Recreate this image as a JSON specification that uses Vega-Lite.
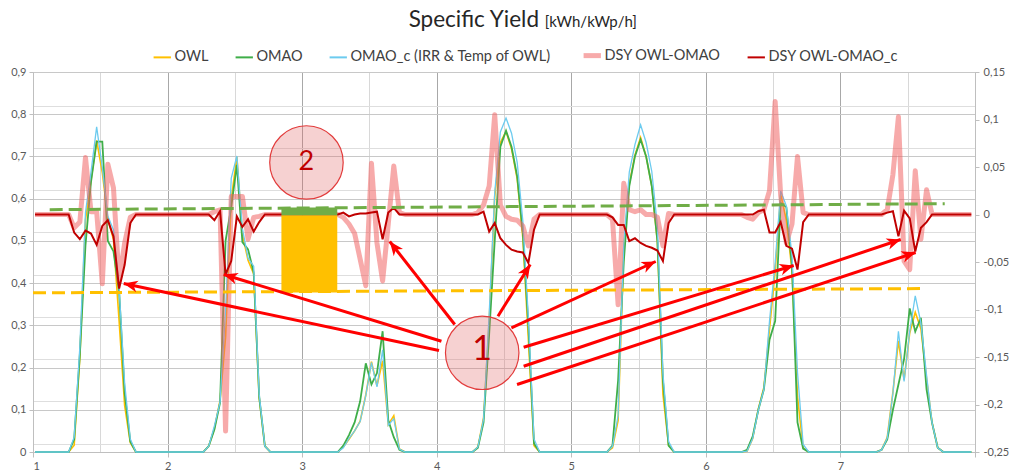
{
  "$schema": "https://vega.github.io/schema/vega-lite/v6.json",
  "width": 942,
  "height": 380,
  "autosize": {"type": "none"},
  "padding": {"left": 33, "top": 72, "right": 36, "bottom": 20},
  "background": "#ffffff",
  "config": {"view": {"stroke": null}, "font": "Lato"},
  "datasets": {
    "hourly": [
      {"day":1.015,"OWL":0,"OMAO":0,"OMAO_c":0,"DSY":0,"DSY_c":0},
      {"day":1.223,"OWL":0,"OMAO":0,"OMAO_c":0,"DSY":0,"DSY_c":0},
      {"day":1.265,"OWL":0,"OMAO":0,"OMAO_c":0,"DSY":0,"DSY_c":0},
      {"day":1.306,"OWL":0.016,"OMAO":0.03,"OMAO_c":0.035,"DSY":-0.014,"DSY_c":-0.019},
      {"day":1.348,"OWL":0.222,"OMAO":0.23,"OMAO_c":0.248,"DSY":-0.008,"DSY_c":-0.026},
      {"day":1.390,"OWL":0.55,"OMAO":0.49,"OMAO_c":0.567,"DSY":0.06,"DSY_c":-0.017},
      {"day":1.431,"OWL":0.643,"OMAO":0.64,"OMAO_c":0.663,"DSY":0.003,"DSY_c":-0.02},
      {"day":1.473,"OWL":0.738,"OMAO":0.735,"OMAO_c":0.77,"DSY":0.003,"DSY_c":-0.032},
      {"day":1.515,"OWL":0.662,"OMAO":0.735,"OMAO_c":0.674,"DSY":-0.073,"DSY_c":-0.012},
      {"day":1.556,"OWL":0.553,"OMAO":0.5,"OMAO_c":0.559,"DSY":0.053,"DSY_c":-0.006},
      {"day":1.598,"OWL":0.503,"OMAO":0.475,"OMAO_c":0.526,"DSY":0.028,"DSY_c":-0.023},
      {"day":1.640,"OWL":0.31,"OMAO":0.38,"OMAO_c":0.388,"DSY":-0.07,"DSY_c":-0.078},
      {"day":1.681,"OWL":0.11,"OMAO":0.14,"OMAO_c":0.163,"DSY":-0.03,"DSY_c":-0.053},
      {"day":1.723,"OWL":0.022,"OMAO":0.025,"OMAO_c":0.031,"DSY":-0.003,"DSY_c":-0.009},
      {"day":1.765,"OWL":0,"OMAO":0,"OMAO_c":0,"DSY":0,"DSY_c":0},
      {"day":1.806,"OWL":0,"OMAO":0,"OMAO_c":0,"DSY":0,"DSY_c":0},
      {"day":2.223,"OWL":0,"OMAO":0,"OMAO_c":0,"DSY":0,"DSY_c":0},
      {"day":2.265,"OWL":0,"OMAO":0,"OMAO_c":0,"DSY":0,"DSY_c":0},
      {"day":2.306,"OWL":0.014,"OMAO":0.014,"OMAO_c":0.014,"DSY":0,"DSY_c":0},
      {"day":2.348,"OWL":0.056,"OMAO":0.053,"OMAO_c":0.062,"DSY":0.003,"DSY_c":-0.006},
      {"day":2.390,"OWL":0.122,"OMAO":0.117,"OMAO_c":0.118,"DSY":0.005,"DSY_c":0.0035},
      {"day":2.431,"OWL":0.272,"OMAO":0.5,"OMAO_c":0.335,"DSY":-0.228,"DSY_c":-0.063},
      {"day":2.473,"OWL":0.599,"OMAO":0.58,"OMAO_c":0.648,"DSY":0.019,"DSY_c":-0.049},
      {"day":2.515,"OWL":0.699,"OMAO":0.68,"OMAO_c":0.701,"DSY":0.019,"DSY_c":-0.002},
      {"day":2.556,"OWL":0.516,"OMAO":0.497,"OMAO_c":0.529,"DSY":0.019,"DSY_c":-0.013},
      {"day":2.598,"OWL":0.454,"OMAO":0.48,"OMAO_c":0.459,"DSY":-0.026,"DSY_c":-0.005},
      {"day":2.640,"OWL":0.422,"OMAO":0.425,"OMAO_c":0.44,"DSY":-0.003,"DSY_c":-0.018},
      {"day":2.681,"OWL":0.128,"OMAO":0.13,"OMAO_c":0.136,"DSY":-0.002,"DSY_c":-0.008},
      {"day":2.723,"OWL":0.014,"OMAO":0.014,"OMAO_c":0.014,"DSY":0,"DSY_c":0},
      {"day":2.765,"OWL":0,"OMAO":0,"OMAO_c":0,"DSY":0,"DSY_c":0},
      {"day":2.806,"OWL":0,"OMAO":0,"OMAO_c":0,"DSY":0,"DSY_c":0},
      {"day":3.223,"OWL":0,"OMAO":0,"OMAO_c":0,"DSY":0,"DSY_c":0},
      {"day":3.265,"OWL":0,"OMAO":0,"OMAO_c":0,"DSY":0,"DSY_c":0},
      {"day":3.306,"OWL":0.012,"OMAO":0.015,"OMAO_c":0.01,"DSY":-0.003,"DSY_c":0.002},
      {"day":3.348,"OWL":0.03,"OMAO":0.04,"OMAO_c":0.032,"DSY":-0.01,"DSY_c":-0.002},
      {"day":3.390,"OWL":0.05,"OMAO":0.07,"OMAO_c":0.05,"DSY":-0.02,"DSY_c":0},
      {"day":3.431,"OWL":0.073,"OMAO":0.12,"OMAO_c":0.072,"DSY":-0.047,"DSY_c":0.001},
      {"day":3.473,"OWL":0.135,"OMAO":0.21,"OMAO_c":0.134,"DSY":-0.075,"DSY_c":0.001},
      {"day":3.515,"OWL":0.214,"OMAO":0.16,"OMAO_c":0.212,"DSY":0.054,"DSY_c":0.002},
      {"day":3.556,"OWL":0.157,"OMAO":0.187,"OMAO_c":0.154,"DSY":-0.03,"DSY_c":0.003},
      {"day":3.598,"OWL":0.216,"OMAO":0.286,"OMAO_c":0.242,"DSY":-0.07,"DSY_c":-0.026},
      {"day":3.640,"OWL":0.065,"OMAO":0.075,"OMAO_c":0.063,"DSY":-0.01,"DSY_c":0.002},
      {"day":3.681,"OWL":0.086,"OMAO":0.035,"OMAO_c":0.079,"DSY":0.051,"DSY_c":0.007},
      {"day":3.723,"OWL":0.007,"OMAO":0.005,"OMAO_c":0.007,"DSY":0.002,"DSY_c":0},
      {"day":3.765,"OWL":0,"OMAO":0,"OMAO_c":0,"DSY":0,"DSY_c":0},
      {"day":3.806,"OWL":0,"OMAO":0,"OMAO_c":0,"DSY":0,"DSY_c":0},
      {"day":4.223,"OWL":0,"OMAO":0,"OMAO_c":0,"DSY":0,"DSY_c":0},
      {"day":4.265,"OWL":0,"OMAO":0,"OMAO_c":0,"DSY":0,"DSY_c":0},
      {"day":4.306,"OWL":0.012,"OMAO":0.01,"OMAO_c":0.012,"DSY":0.002,"DSY_c":0},
      {"day":4.348,"OWL":0.08,"OMAO":0.07,"OMAO_c":0.077,"DSY":0.01,"DSY_c":0.003},
      {"day":4.390,"OWL":0.31,"OMAO":0.28,"OMAO_c":0.328,"DSY":0.03,"DSY_c":-0.018},
      {"day":4.431,"OWL":0.605,"OMAO":0.5,"OMAO_c":0.614,"DSY":0.105,"DSY_c":-0.009},
      {"day":4.473,"OWL":0.733,"OMAO":0.723,"OMAO_c":0.758,"DSY":0.01,"DSY_c":-0.025},
      {"day":4.515,"OWL":0.759,"OMAO":0.761,"OMAO_c":0.791,"DSY":-0.002,"DSY_c":-0.032},
      {"day":4.556,"OWL":0.718,"OMAO":0.723,"OMAO_c":0.755,"DSY":-0.005,"DSY_c":-0.037},
      {"day":4.598,"OWL":0.647,"OMAO":0.653,"OMAO_c":0.686,"DSY":-0.006,"DSY_c":-0.039},
      {"day":4.640,"OWL":0.507,"OMAO":0.519,"OMAO_c":0.547,"DSY":-0.012,"DSY_c":-0.04},
      {"day":4.681,"OWL":0.267,"OMAO":0.3,"OMAO_c":0.318,"DSY":-0.033,"DSY_c":-0.051},
      {"day":4.723,"OWL":0.015,"OMAO":0.02,"OMAO_c":0.031,"DSY":-0.005,"DSY_c":-0.016},
      {"day":4.765,"OWL":0,"OMAO":0,"OMAO_c":0,"DSY":0,"DSY_c":0},
      {"day":4.806,"OWL":0,"OMAO":0,"OMAO_c":0,"DSY":0,"DSY_c":0},
      {"day":5.223,"OWL":0,"OMAO":0,"OMAO_c":0,"DSY":0,"DSY_c":0},
      {"day":5.265,"OWL":0,"OMAO":0,"OMAO_c":0,"DSY":0,"DSY_c":0},
      {"day":5.306,"OWL":0.01,"OMAO":0.015,"OMAO_c":0.013,"DSY":-0.005,"DSY_c":-0.003},
      {"day":5.348,"OWL":0.075,"OMAO":0.17,"OMAO_c":0.086,"DSY":-0.095,"DSY_c":-0.011},
      {"day":5.390,"OWL":0.483,"OMAO":0.45,"OMAO_c":0.494,"DSY":0.033,"DSY_c":-0.011},
      {"day":5.431,"OWL":0.635,"OMAO":0.63,"OMAO_c":0.663,"DSY":0.005,"DSY_c":-0.028},
      {"day":5.473,"OWL":0.703,"OMAO":0.7,"OMAO_c":0.728,"DSY":0.003,"DSY_c":-0.025},
      {"day":5.515,"OWL":0.745,"OMAO":0.74,"OMAO_c":0.775,"DSY":0.005,"DSY_c":-0.03},
      {"day":5.556,"OWL":0.7,"OMAO":0.7,"OMAO_c":0.733,"DSY":0,"DSY_c":-0.033},
      {"day":5.598,"OWL":0.63,"OMAO":0.63,"OMAO_c":0.665,"DSY":0,"DSY_c":-0.035},
      {"day":5.640,"OWL":0.497,"OMAO":0.5,"OMAO_c":0.535,"DSY":-0.003,"DSY_c":-0.038},
      {"day":5.681,"OWL":0.137,"OMAO":0.17,"OMAO_c":0.186,"DSY":-0.033,"DSY_c":-0.049},
      {"day":5.723,"OWL":0.016,"OMAO":0.015,"OMAO_c":0.025,"DSY":0.001,"DSY_c":-0.009},
      {"day":5.765,"OWL":0,"OMAO":0,"OMAO_c":0,"DSY":0,"DSY_c":0},
      {"day":5.806,"OWL":0,"OMAO":0,"OMAO_c":0,"DSY":0,"DSY_c":0},
      {"day":6.223,"OWL":0,"OMAO":0,"OMAO_c":0,"DSY":0,"DSY_c":0},
      {"day":6.265,"OWL":0,"OMAO":0,"OMAO_c":0,"DSY":0,"DSY_c":0},
      {"day":6.306,"OWL":0.002,"OMAO":0.005,"OMAO_c":0.002,"DSY":-0.003,"DSY_c":0},
      {"day":6.348,"OWL":0.032,"OMAO":0.037,"OMAO_c":0.032,"DSY":-0.005,"DSY_c":0},
      {"day":6.390,"OWL":0.102,"OMAO":0.1,"OMAO_c":0.099,"DSY":0.002,"DSY_c":0.0035},
      {"day":6.431,"OWL":0.153,"OMAO":0.148,"OMAO_c":0.148,"DSY":0.005,"DSY_c":0.005},
      {"day":6.473,"OWL":0.291,"OMAO":0.266,"OMAO_c":0.31,"DSY":0.025,"DSY_c":-0.019},
      {"day":6.515,"OWL":0.429,"OMAO":0.31,"OMAO_c":0.448,"DSY":0.119,"DSY_c":-0.019},
      {"day":6.556,"OWL":0.61,"OMAO":0.59,"OMAO_c":0.618,"DSY":0.02,"DSY_c":-0.008},
      {"day":6.598,"OWL":0.55,"OMAO":0.58,"OMAO_c":0.583,"DSY":-0.03,"DSY_c":-0.033},
      {"day":6.640,"OWL":0.43,"OMAO":0.44,"OMAO_c":0.466,"DSY":-0.01,"DSY_c":-0.036},
      {"day":6.681,"OWL":0.131,"OMAO":0.07,"OMAO_c":0.189,"DSY":0.061,"DSY_c":-0.058},
      {"day":6.723,"OWL":0.01,"OMAO":0.008,"OMAO_c":0.018,"DSY":0.002,"DSY_c":-0.008},
      {"day":6.765,"OWL":0,"OMAO":0,"OMAO_c":0,"DSY":0,"DSY_c":0},
      {"day":6.806,"OWL":0,"OMAO":0,"OMAO_c":0,"DSY":0,"DSY_c":0},
      {"day":7.223,"OWL":0,"OMAO":0,"OMAO_c":0,"DSY":0,"DSY_c":0},
      {"day":7.265,"OWL":0,"OMAO":0,"OMAO_c":0,"DSY":0,"DSY_c":0},
      {"day":7.306,"OWL":0.005,"OMAO":0.005,"OMAO_c":0.005,"DSY":0,"DSY_c":0},
      {"day":7.348,"OWL":0.035,"OMAO":0.03,"OMAO_c":0.033,"DSY":0.005,"DSY_c":0.002},
      {"day":7.390,"OWL":0.142,"OMAO":0.1,"OMAO_c":0.139,"DSY":0.042,"DSY_c":0.0035},
      {"day":7.431,"OWL":0.263,"OMAO":0.16,"OMAO_c":0.286,"DSY":0.103,"DSY_c":-0.023},
      {"day":7.473,"OWL":0.171,"OMAO":0.22,"OMAO_c":0.167,"DSY":-0.049,"DSY_c":0.004},
      {"day":7.515,"OWL":0.282,"OMAO":0.34,"OMAO_c":0.286,"DSY":-0.058,"DSY_c":-0.004},
      {"day":7.556,"OWL":0.331,"OMAO":0.285,"OMAO_c":0.37,"DSY":0.046,"DSY_c":-0.039},
      {"day":7.598,"OWL":0.292,"OMAO":0.318,"OMAO_c":0.306,"DSY":-0.026,"DSY_c":-0.014},
      {"day":7.640,"OWL":0.174,"OMAO":0.148,"OMAO_c":0.182,"DSY":0.026,"DSY_c":-0.008},
      {"day":7.681,"OWL":0.069,"OMAO":0.069,"OMAO_c":0.069,"DSY":0,"DSY_c":0},
      {"day":7.723,"OWL":0.01,"OMAO":0.01,"OMAO_c":0.01,"DSY":0,"DSY_c":0},
      {"day":7.765,"OWL":0,"OMAO":0,"OMAO_c":0,"DSY":0,"DSY_c":0},
      {"day":7.806,"OWL":0,"OMAO":0,"OMAO_c":0,"DSY":0,"DSY_c":0},
      {"day":7.973,"OWL":0,"OMAO":0,"OMAO_c":0,"DSY":0,"DSY_c":0}
    ],
    "levels": [
      {"series":"OWL","day":1.0,"level":0.377,"day_end":7.614,"level_end":0.387},
      {"series":"OMAO","day":1.124,"level":0.574,"day_end":7.775,"level_end":0.588}
    ],
    "gap": [
      {"part":"OWL","from":2.846,"to":3.261,"lo":0.378,"hi":0.561},
      {"part":"OMAO","from":2.846,"to":3.261,"lo":0.561,"hi":0.579}
    ],
    "callouts": [
      {"label":"1","day":4.338,"y":0.235},
      {"label":"2","day":3.032,"y":0.6857}
    ],
    "arrows": [
      {"target":"day 1","day":4.017,"y":0.2404,"day_end":1.674,"y_end":0.3991},
      {"target":"day 2","day":4.035,"y":0.2624,"day_end":2.417,"y_end":0.4204},
      {"target":"day 3","day":4.134,"y":0.302,"day_end":3.651,"y_end":0.4986},
      {"target":"day 4","day":4.455,"y":0.3217,"day_end":4.695,"y_end":0.4441},
      {"target":"day 5","day":4.555,"y":0.2942,"day_end":5.627,"y_end":0.4512},
      {"target":"day 6","day":4.646,"y":0.2482,"day_end":6.653,"y_end":0.4417},
      {"target":"day 7a","day":4.646,"y":0.2032,"day_end":7.448,"y_end":0.5033},
      {"target":"day 7b","day":4.597,"y":0.1599,"day_end":7.559,"y_end":0.4725}
    ],
    "heading": [
      {"part":"name","text":"Specific Yield"},
      {"part":"unit","text":"[kWh/kWp/h]"}
    ]
  },
  "layer": [
    {
      "layer": [
        {
          "data": {"name": "hourly"},
          "mark": {"type": "line", "strokeWidth": 1.6},
          "encoding": {
            "x": {"field": "day", "type": "quantitative", "scale": {"domain": [1, 8], "nice": false, "zero": false},
              "axis": {"title": null, "values": [1,1.5,2,2.5,3,3.5,4,4.5,5,5.5,6,6.5,7,7.5,8],
                "labelExpr": "datum.value % 1 == 0 && datum.value < 8 ? format(datum.value, 'd') : ''",
                "labelOverlap": false, "grid": true,
                "gridColor": {"condition": {"test": "datum.value % 1 == 0", "value": "#a8a8a8"}, "value": "#d8d8d8"},
                "tickOpacity": {"condition": {"test": "datum.value % 1 == 0", "value": 1}, "value": 0},
                "tickSize": 5, "tickColor": "#bfbfbf", "domainColor": "#bfbfbf",
                "labelColor": "#595959", "labelFont": "Lato", "labelFontSize": 11, "labelPadding": 3}},
            "y": {"field": "OWL", "type": "quantitative", "scale": {"domain": [0, 0.9], "nice": false, "zero": false},
              "axis": {"orient": "left", "title": null,
                "values": [0,0.1,0.2,0.3,0.4,0.5,0.6,0.7,0.8,0.9],
                "labelExpr": "replace(format(datum.value, '.1~f'), '.', ',')",
                "grid": true, "gridColor": "#c8c8c8",
                "tickSize": 4, "tickColor": "#bfbfbf", "domainColor": "#bfbfbf",
                "labelColor": "#595959", "labelFont": "Lato", "labelFontSize": 11, "labelPadding": 3}},
            "color": {"datum": "OWL", "type": "nominal",
              "scale": {"domain": ["OWL", "OMAO", "OMAO_c (IRR & Temp of OWL)", "DSY OWL-OMAO", "DSY OWL-OMAO_c"],
                "range": ["#ffc000", "#3fae49", "#6ccbef", "rgba(240,100,100,0.55)", "#c00000"]},
              "legend": {"orient": "none", "legendX": 122, "legendY": -24, "direction": "horizontal", "title": null,
                "labelFont": "Lato", "labelFontSize": 14.5, "labelColor": "#404040", "labelLimit": 400, "symbolType": "stroke",
                "symbolSize": 300, "columnPadding": 22, "labelOffset": 5, "symbolStrokeWidth": 2,
                "encode": {"symbols": {"update": {"strokeWidth": {"signal": "datum.value == 'DSY OWL-OMAO' ? 5 : 2"}}}}}}
          }
        },
        {
          "data": {"name": "hourly"},
          "mark": {"type": "line", "strokeWidth": 1.8},
          "encoding": {
            "x": {"field": "day", "type": "quantitative", "scale": {"domain": [1, 8], "nice": false, "zero": false}},
            "y": {"field": "OMAO", "type": "quantitative", "scale": {"domain": [0, 0.9], "nice": false, "zero": false}},
            "color": {"datum": "OMAO", "type": "nominal",
              "scale": {"domain": ["OWL", "OMAO", "OMAO_c (IRR & Temp of OWL)", "DSY OWL-OMAO", "DSY OWL-OMAO_c"],
                "range": ["#ffc000", "#3fae49", "#6ccbef", "rgba(240,100,100,0.55)", "#c00000"]}}
          }
        },
        {
          "data": {"name": "hourly"},
          "mark": {"type": "line", "strokeWidth": 1.3},
          "encoding": {
            "x": {"field": "day", "type": "quantitative", "scale": {"domain": [1, 8], "nice": false, "zero": false}},
            "y": {"field": "OMAO_c", "type": "quantitative", "scale": {"domain": [0, 0.9], "nice": false, "zero": false}},
            "color": {"datum": "OMAO_c (IRR & Temp of OWL)", "type": "nominal",
              "scale": {"domain": ["OWL", "OMAO", "OMAO_c (IRR & Temp of OWL)", "DSY OWL-OMAO", "DSY OWL-OMAO_c"],
                "range": ["#ffc000", "#3fae49", "#6ccbef", "rgba(240,100,100,0.55)", "#c00000"]}}
          }
        }
      ]
    },
    {
      "layer": [
        {
          "data": {"name": "hourly"},
          "mark": {"type": "line", "strokeWidth": 5, "strokeJoin": "round"},
          "encoding": {
            "x": {"field": "day", "type": "quantitative", "scale": {"domain": [1, 8], "nice": false, "zero": false}},
            "y": {"field": "DSY", "type": "quantitative", "scale": {"domain": [-0.25, 0.15], "nice": false, "zero": false},
              "axis": {"orient": "right", "title": null, "values": [-0.25,-0.2,-0.15,-0.1,-0.05,0,0.05,0.1,0.15],
                "labelExpr": "(datum.value < -0.0001 ? '-' : '') + replace(format(abs(datum.value), '.2~f'), '.', ',')",
                "grid": false, "tickSize": 4, "tickColor": "#bfbfbf", "domainColor": "#bfbfbf",
                "labelColor": "#595959", "labelFont": "Lato", "labelFontSize": 11, "labelPadding": 4}},
            "color": {"datum": "DSY OWL-OMAO", "type": "nominal",
              "scale": {"domain": ["OWL", "OMAO", "OMAO_c (IRR & Temp of OWL)", "DSY OWL-OMAO", "DSY OWL-OMAO_c"],
                "range": ["#ffc000", "#3fae49", "#6ccbef", "rgba(240,100,100,0.55)", "#c00000"]}}
          }
        },
        {
          "data": {"name": "hourly"},
          "mark": {"type": "line", "strokeWidth": 2},
          "encoding": {
            "x": {"field": "day", "type": "quantitative", "scale": {"domain": [1, 8], "nice": false, "zero": false}},
            "y": {"field": "DSY_c", "type": "quantitative", "scale": {"domain": [-0.25, 0.15], "nice": false, "zero": false}},
            "color": {"datum": "DSY OWL-OMAO_c", "type": "nominal",
              "scale": {"domain": ["OWL", "OMAO", "OMAO_c (IRR & Temp of OWL)", "DSY OWL-OMAO", "DSY OWL-OMAO_c"],
                "range": ["#ffc000", "#3fae49", "#6ccbef", "rgba(240,100,100,0.55)", "#c00000"]}}
          }
        }
      ]
    },
    {
      "layer": [
        {
          "data": {"name": "levels"},
          "transform": [{"filter": "datum.series == 'OWL'"}],
          "mark": {"type": "rule", "stroke": "#ffc000", "strokeWidth": 3, "strokeDash": [13, 6]},
          "encoding": {
            "x": {"field": "day", "type": "quantitative", "scale": {"domain": [1, 8], "nice": false, "zero": false}},
            "x2": {"field": "day_end"},
            "y": {"field": "level", "type": "quantitative", "scale": {"domain": [0, 0.9], "nice": false, "zero": false},
              "axis": {"orient": "left", "title": null, "labels": false, "ticks": false, "domain": false,
                "values": [0.02,0.04,0.06,0.08,0.12,0.14,0.16,0.18,0.22,0.24,0.26,0.28,0.32,0.34,0.36,0.38,0.42,0.44,0.46,0.48,0.52,0.54,0.56,0.58,0.62,0.64,0.66,0.68,0.72,0.74,0.76,0.78,0.82,0.84,0.86,0.88],
                "grid": true, "gridColor": "#dedede"}},
            "y2": {"field": "level_end"}
          }
        },
        {
          "data": {"name": "levels"},
          "transform": [{"filter": "datum.series == 'OMAO'"}],
          "mark": {"type": "rule", "stroke": "#70ad47", "strokeWidth": 3, "strokeDash": [13, 6]},
          "encoding": {
            "x": {"field": "day", "type": "quantitative", "scale": {"domain": [1, 8], "nice": false, "zero": false}},
            "x2": {"field": "day_end"},
            "y": {"field": "level", "type": "quantitative", "scale": {"domain": [0, 0.9], "nice": false, "zero": false}},
            "y2": {"field": "level_end"}
          }
        },
        {
          "data": {"name": "gap"},
          "transform": [{"filter": "datum.part == 'OWL'"}],
          "mark": {"type": "rect", "fill": "#ffc000"},
          "encoding": {
            "x": {"field": "from", "type": "quantitative", "scale": {"domain": [1, 8], "nice": false, "zero": false}},
            "x2": {"field": "to"},
            "y": {"field": "lo", "type": "quantitative", "scale": {"domain": [0, 0.9], "nice": false, "zero": false}},
            "y2": {"field": "hi"}
          }
        },
        {
          "data": {"name": "gap"},
          "transform": [{"filter": "datum.part == 'OMAO'"}],
          "mark": {"type": "rect", "fill": "#70ad47"},
          "encoding": {
            "x": {"field": "from", "type": "quantitative", "scale": {"domain": [1, 8], "nice": false, "zero": false}},
            "x2": {"field": "to"},
            "y": {"field": "lo", "type": "quantitative", "scale": {"domain": [0, 0.9], "nice": false, "zero": false}},
            "y2": {"field": "hi"}
          }
        },
        {
          "data": {"name": "arrows"},
          "mark": {"type": "rule", "stroke": "#ff0000", "strokeWidth": 3},
          "encoding": {
            "x": {"field": "day", "type": "quantitative", "scale": {"domain": [1, 8], "nice": false, "zero": false}},
            "x2": {"field": "day_end"},
            "y": {"field": "y", "type": "quantitative", "scale": {"domain": [0, 0.9], "nice": false, "zero": false}},
            "y2": {"field": "y_end"}
          }
        },
        {
          "data": {"name": "arrows"},
          "transform": [{"calculate": "atan2((datum.day_end - datum.day) * 134.57, (datum.y_end - datum.y) * 422.2) * 180 / PI", "as": "heading"}],
          "mark": {"type": "point", "shape": "M0,0L-0.42,1L0,0.72L0.42,1Z", "filled": true, "fill": "#ff0000", "stroke": null, "size": 784, "opacity": 1},
          "encoding": {
            "x": {"field": "day_end", "type": "quantitative", "scale": {"domain": [1, 8], "nice": false, "zero": false}},
            "y": {"field": "y_end", "type": "quantitative", "scale": {"domain": [0, 0.9], "nice": false, "zero": false}},
            "angle": {"field": "heading", "type": "quantitative", "scale": null}
          }
        },
        {
          "data": {"name": "callouts"},
          "mark": {"type": "point", "shape": "circle", "filled": true, "fill": "#e06666", "fillOpacity": 0.3, "stroke": "#e23c3c", "strokeWidth": 1.2, "strokeOpacity": 1, "size": 5400, "opacity": 1},
          "encoding": {
            "x": {"field": "day", "type": "quantitative", "scale": {"domain": [1, 8], "nice": false, "zero": false}},
            "y": {"field": "y", "type": "quantitative", "scale": {"domain": [0, 0.9], "nice": false, "zero": false}}
          }
        },
        {
          "data": {"name": "callouts"},
          "transform": [{"filter": "datum.label == '1'"}],
          "mark": {"type": "text", "font": "Lato", "fontSize": 34, "color": "#c00000", "baseline": "middle", "align": "center", "dy": -3},
          "encoding": {
            "x": {"field": "day", "type": "quantitative", "scale": {"domain": [1, 8], "nice": false, "zero": false}},
            "y": {"field": "y", "type": "quantitative", "scale": {"domain": [0, 0.9], "nice": false, "zero": false}},
            "text": {"field": "label"}
          }
        },
        {
          "data": {"name": "callouts"},
          "transform": [{"filter": "datum.label == '2'"}],
          "mark": {"type": "text", "font": "Lato", "fontSize": 27, "color": "#c00000", "baseline": "middle", "align": "center"},
          "encoding": {
            "x": {"field": "day", "type": "quantitative", "scale": {"domain": [1, 8], "nice": false, "zero": false}},
            "y": {"field": "y", "type": "quantitative", "scale": {"domain": [0, 0.9], "nice": false, "zero": false}},
            "text": {"field": "label"}
          }
        },
        {
          "data": {"name": "heading"},
          "transform": [{"filter": "datum.part == 'name'"}],
          "mark": {"type": "text", "font": "Lato", "fontSize": 22.5, "color": "#262626", "baseline": "alphabetic", "align": "right"},
          "encoding": {
            "x": {"datum": 4.76, "type": "quantitative", "scale": {"domain": [1, 8], "nice": false, "zero": false}},
            "y": {"datum": 1.007, "type": "quantitative", "scale": {"domain": [0, 0.9], "nice": false, "zero": false}},
            "text": {"field": "text"}
          }
        },
        {
          "data": {"name": "heading"},
          "transform": [{"filter": "datum.part == 'unit'"}],
          "mark": {"type": "text", "font": "Lato", "fontSize": 15, "color": "#262626", "baseline": "alphabetic", "align": "left"},
          "encoding": {
            "x": {"datum": 4.802, "type": "quantitative", "scale": {"domain": [1, 8], "nice": false, "zero": false}},
            "y": {"datum": 1.007, "type": "quantitative", "scale": {"domain": [0, 0.9], "nice": false, "zero": false}},
            "text": {"field": "text"}
          }
        }
      ]
    }
  ],
  "resolve": {"scale": {"y": "independent"}}
}
